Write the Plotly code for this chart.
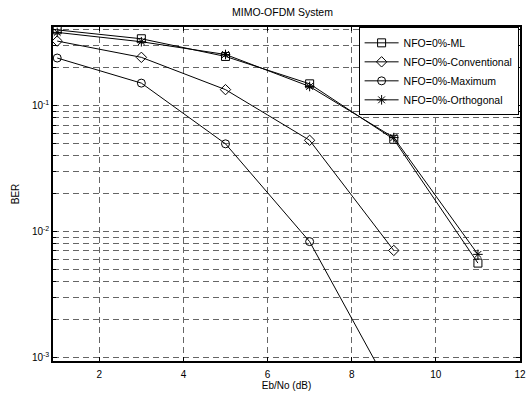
import plotly.graph_objects as go

ebno = [1, 3, 5, 7, 9, 11]
ber_ml = [0.40, 0.34, 0.246, 0.149, 0.054, 0.0056]
ber_conv = [0.326, 0.242, 0.134, 0.053, 0.00706]
ber_max = [0.239, 0.151, 0.0497, 0.0083, 0.0005]
ber_orth = [0.382, 0.322, 0.255, 0.142, 0.0557, 0.00657]

names = ["NFO=0%-ML", "NFO=0%-Conventional", "NFO=0%-Maximum", "NFO=0%-Orthogonal"]
series = [ber_ml, ber_conv, ber_max, ber_orth]
symbols = ["square-open", "diamond-open", "circle-open", "asterisk-open"]

x_ticks = [2, 4, 6, 8, 10, 12]
y_major = [0.001, 0.01, 0.1]
y_major_text = ["10<sup>-3</sup>", "10<sup>-2</sup>", "10<sup>-1</sup>"]
y_minor = [d * k for d in y_major for k in range(2, 10) if d * k < 0.45]

fig = go.Figure()
for name, ys, sym in zip(names, series, symbols):
    fig.add_trace(go.Scatter(
        x=ebno[:len(ys)], y=ys, name=name, mode="lines+markers",
        line=dict(color="black", width=1),
        marker=dict(symbol=sym, size=8, color="black", line=dict(width=1, color="black")),
    ))

font = "Liberation Sans, Arial, sans-serif"
grid = dict(showgrid=True, gridcolor="#666", griddash="6px,4px", gridwidth=1)
fig.update_layout(
    width=528, height=394,
    margin=dict(l=53, r=8, t=27, b=33),
    paper_bgcolor="white", plot_bgcolor="white",
    font=dict(family=font, size=10, color="black"),
    title=dict(text="MIMO-OFDM System", x=0.535, xanchor="center", y=0.968, yanchor="middle",
               font=dict(size=10.5, family=font, color="black")),
    showlegend=True,
    legend=dict(x=0.997, y=0.999, xanchor="right", yanchor="top",
                bgcolor="white", bordercolor="black", borderwidth=1,
                font=dict(size=10.5, family=font), tracegroupgap=0,
                itemwidth=34),
    xaxis=dict(
        range=[0.9, 12], tickvals=x_ticks, ticks="inside", ticklen=4, tickcolor="black",
        showline=True, linecolor="black", linewidth=1.5, mirror="ticks",
        zeroline=False, **grid, ticklabelstandoff=3, automargin=False,
        title=dict(text="Eb/No (dB)", standoff=0, font=dict(size=10, family=font)),
        tickfont=dict(size=10),
    ),
    yaxis=dict(
        type="log", range=[-3.03, -0.375], tickvals=y_major, ticktext=y_major_text,
        ticks="inside", ticklen=4, tickcolor="black",
        showline=True, linecolor="black", linewidth=1.5, mirror="ticks",
        zeroline=False, **grid, automargin=False,
        minor=dict(tickmode="array", tickvals=y_minor, ticks="inside", ticklen=3,
                   tickcolor="black", **grid),
        title=dict(text="BER", standoff=10, font=dict(size=10, family=font)),
        tickfont=dict(size=10),
    ),
)

fig.write_html("out.html", config={"displayModeBar": False},
               post_script="document.body.style.margin='0';")
